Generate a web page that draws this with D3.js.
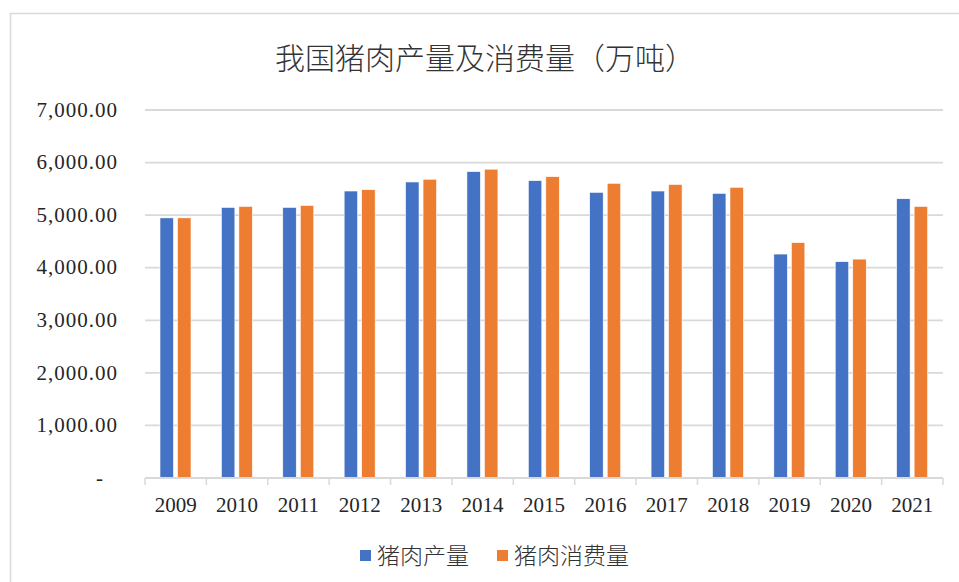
<!DOCTYPE html>
<html>
<head>
<meta charset="utf-8">
<script src="https://cdn.jsdelivr.net/npm/d3@7.9.0/dist/d3.min.js"></script>
<style>
  body { margin: 0; background: #fff; }
  svg { display: block; }
  text { font-family: "Liberation Serif", "Noto Sans CJK SC", serif; }
</style>
</head>
<body>
<svg width="959" height="582"></svg>
<script>
// data
const years = ['2009', '2010', '2011', '2012', '2013', '2014', '2015', '2016', '2017', '2018', '2019', '2020', '2021'];
const seriesNames = ['猪肉产量', '猪肉消费量'];
const production = [4948, 5147, 5147, 5459, 5631, 5828, 5656, 5434, 5459, 5415, 4260, 4115, 5312];
const consumption = [4948, 5166, 5185, 5484, 5683, 5874, 5732, 5606, 5583, 5530, 4478, 4164, 5166];
const yTicks = [0, 1000, 2000, 3000, 4000, 5000, 6000, 7000];
const colors = ['#4472C4', '#ED7D31'];

const svg = d3.select('svg');

// outer chart frame
svg.append('rect')
  .attr('x', 10.5).attr('y', 13.5)
  .attr('width', 980).attr('height', 600)
  .attr('fill', 'none')
  .attr('stroke', '#d9d9d9')
  .attr('stroke-width', 1.5);

svg.append('text')
  .attr('x', 485).attr('y', 69)
  .attr('text-anchor', 'middle')
  .attr('font-size', 30)
  .attr('fill', '#333')
  .attr('font-family', '"Noto Sans CJK SC", sans-serif')
  .attr('font-weight', 300)
  .text('我国猪肉产量及消费量（万吨）');

const x0 = d3.scaleBand().domain(years).range([145, 943]).paddingInner(0);
const x1 = d3.scaleBand().domain(seriesNames).range([15, 46]).paddingInner(0.23);
const y = d3.scaleLinear().domain([0, 7000]).range([478, 110]);

// gridlines
svg.append('g')
  .selectAll('line')
  .data(yTicks.filter(d => d > 0))
  .join('line')
  .attr('x1', 145).attr('x2', 943)
  .attr('y1', d => y(d)).attr('y2', d => y(d))
  .attr('stroke', '#d9d9d9')
  .attr('stroke-width', 1.8);

// y labels
const fmt = d3.format(',.2f');
svg.append('g')
  .selectAll('text')
  .data(yTicks)
  .join('text')
  .attr('x', d => d === 0 ? 104 : 118)
  .attr('y', d => y(d))
  .attr('dy', '0.32em')
  .attr('text-anchor', 'end')
  .attr('font-size', 21)
  .attr('letter-spacing', 1)
  .attr('fill', '#262626')
  .text(d => d === 0 ? '-' : fmt(d));

// bars
const rows = years.map((yr, i) => ({ year: yr, values: [production[i], consumption[i]] }));
const groups = svg.append('g')
  .selectAll('g')
  .data(rows)
  .join('g')
  .attr('transform', d => `translate(${x0(d.year)},0)`);

groups.selectAll('rect')
  .data(d => d.values.map((v, k) => ({ name: seriesNames[k], value: v, k })))
  .join('rect')
  .attr('x', d => x1(d.name))
  .attr('width', x1.bandwidth())
  .attr('y', d => y(d.value))
  .attr('height', d => y(0) - y(d.value))
  .attr('fill', d => colors[d.k])
  .attr('stroke', '#fff')
  .attr('stroke-width', 0.6);

// x axis
const xAxis = svg.append('g');
xAxis.append('line')
  .attr('x1', 145).attr('x2', 943)
  .attr('y1', 478).attr('y2', 478)
  .attr('stroke', '#d9d9d9').attr('stroke-width', 1.8);
const bounds = years.map(d => x0(d)).concat([x0.range()[1]]);
xAxis.selectAll('line.tick')
  .data(bounds)
  .join('line')
  .attr('class', 'tick')
  .attr('x1', d => d).attr('x2', d => d)
  .attr('y1', 478).attr('y2', 485)
  .attr('stroke', '#d9d9d9').attr('stroke-width', 1.5);
xAxis.selectAll('text')
  .data(years)
  .join('text')
  .attr('x', d => x0(d) + x0.bandwidth() / 2)
  .attr('y', 512)
  .attr('text-anchor', 'middle')
  .attr('font-size', 21)
  .attr('fill', '#262626')
  .text(d => d);

// legend
const legendPos = [360, 497];
const legend = svg.append('g')
  .selectAll('g')
  .data(seriesNames)
  .join('g')
  .attr('transform', (d, i) => `translate(${legendPos[i]},556)`);
legend.append('rect')
  .attr('x', 0).attr('y', -6)
  .attr('width', 11).attr('height', 11)
  .attr('fill', (d, i) => colors[i]);
legend.append('text')
  .attr('x', 17).attr('y', 0)
  .attr('dy', '0.35em')
  .attr('font-size', 23)
  .attr('font-family', '"Noto Sans CJK SC", sans-serif')
  .attr('font-weight', 300)
  .attr('fill', '#333')
  .text(d => d);
</script>
</body>
</html>
